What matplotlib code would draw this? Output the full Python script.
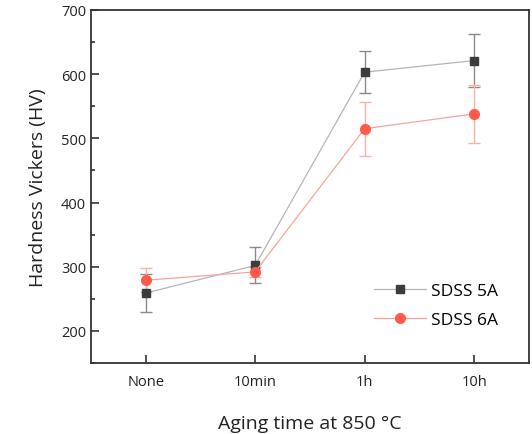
import matplotlib
matplotlib.use("Agg")
import matplotlib.pyplot as plt
from matplotlib.ticker import MultipleLocator

plt.rcParams['font.family'] = ['Open Sans', 'DejaVu Sans']

categories = ["None", "10min", "1h", "10h"]
sdss5a = [259, 302, 603, 621]
sdss5a_err = [30, 28, 33, 41]
sdss6a = [279, 292, 515, 538]
sdss6a_err = [19, 8, 42, 45]

fig = plt.figure(figsize=(5.32, 4.35), dpi=100)
ax = fig.add_axes([0.171, 0.163, 0.823, 0.812])

x = list(range(len(categories)))
ax.errorbar(x, sdss5a, yerr=sdss5a_err, fmt='none',
            ecolor='#8a8a8a', elinewidth=1.0, capsize=4, capthick=1.0, zorder=2)
ax.errorbar(x, sdss6a, yerr=sdss6a_err, fmt='none',
            ecolor='#f8b0a8', elinewidth=1.0, capsize=4, capthick=1.0, zorder=2)
ax.plot(x, sdss5a, color='#b5b5b5', lw=0.9, marker='s', ms=6.2,
        mfc='#3c3c3c', mec='#3c3c3c', label='SDSS 5A', zorder=3)
ax.plot(x, sdss6a, color='#f7a59c', lw=0.9, marker='o', ms=7,
        mfc='#ff5a4b', mec='#ff5a4b', label='SDSS 6A', zorder=3)

ax.set_xlim(-0.5, 3.5)
ax.set_ylim(150, 700)
ax.set_xticks(x)
ax.set_xticklabels(categories)
ax.yaxis.set_major_locator(MultipleLocator(100))
ax.yaxis.set_minor_locator(MultipleLocator(50))
ax.tick_params(axis='both', which='both', direction='in', right=False, top=False,
               labelsize=10.5, width=1.2, colors='#333333', labelcolor='#222222')
ax.tick_params(axis='both', which='major', length=6)
ax.tick_params(axis='y', which='minor', length=3)
ax.tick_params(axis='x', pad=8)
for s in ax.spines.values():
    s.set_linewidth(1.3)
    s.set_color('#333333')

ax.set_xlabel('Aging time at 850 °C', fontsize=14, labelpad=18, color='#222222')
ax.set_ylabel('Hardness Vickers (HV)', fontsize=14, labelpad=10, color='#222222')

leg = ax.legend(loc='lower right', bbox_to_anchor=(0.965, 0.055), frameon=False,
                fontsize=12.5, handlelength=3.0, handletextpad=0.3,
                labelspacing=0.75)

fig.savefig('out.png', dpi=100)
